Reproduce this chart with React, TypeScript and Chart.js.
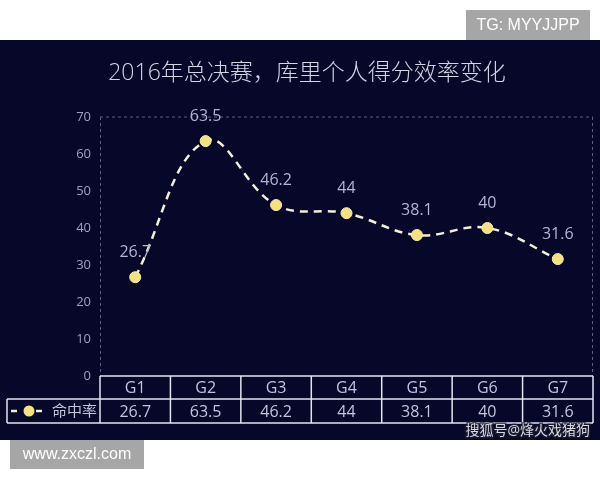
import { useEffect, useRef } from "react";
import { Chart, ChartConfiguration, Plugin, registerables } from "chart.js";

Chart.register(...registerables);

const title = "2016年总决赛，库里个人得分效率变化";
const seriesName = "命中率";
const games = ["G1", "G2", "G3", "G4", "G5", "G6", "G7"];
const fgPct = [26.7, 63.5, 46.2, 44, 38.1, 40, 31.6];

const BG = "#07072a";
const CJK = '"Open Sans", "Noto Sans CJK SC", sans-serif';

const decorPlugin: Plugin<"line"> = {
  id: "decor",
  beforeDraw(chart) {
    const { ctx, width, height, chartArea } = chart;
    ctx.save();
    ctx.fillStyle = "#ffffff";
    ctx.fillRect(0, 0, width, height);
    ctx.fillStyle = BG;
    ctx.fillRect(0, 40, width, 400);

    // title
    ctx.fillStyle = "#d4d4e4";
    ctx.font = `300 23px ${CJK}`;
    ctx.textAlign = "center";
    ctx.textBaseline = "middle";
    ctx.fillText(title, 307, 73);

    // dashed frame
    ctx.strokeStyle = "#5e5e82";
    ctx.lineWidth = 1;
    ctx.setLineDash([3, 3]);
    ctx.beginPath();
    ctx.moveTo(chartArea.left, chartArea.top);
    ctx.lineTo(chartArea.right, chartArea.top);
    ctx.moveTo(chartArea.left + 0.5, chartArea.top);
    ctx.lineTo(chartArea.left + 0.5, chartArea.bottom);
    ctx.moveTo(chartArea.right - 0.5, chartArea.top);
    ctx.lineTo(chartArea.right - 0.5, chartArea.bottom);
    ctx.stroke();
    ctx.restore();
  },
  afterDraw(chart) {
    const { ctx, chartArea } = chart;
    const meta = chart.getDatasetMeta(0);
    ctx.save();

    // value labels
    ctx.fillStyle = "#b4b4d4";
    ctx.font = `16px ${CJK}`;
    ctx.textAlign = "center";
    ctx.textBaseline = "middle";
    meta.data.forEach((pt, i) => {
      ctx.fillText(String(fgPct[i]), pt.x, pt.y - 25);
    });

    // data table
    const left = chartArea.left;
    const right = chartArea.right;
    const colW = (right - left) / games.length;
    const top = chartArea.bottom;
    const mid = top + 23;
    const bot = mid + 24;
    const legendLeft = 7;

    ctx.strokeStyle = "#e4e4f0";
    ctx.lineWidth = 1.5;
    ctx.beginPath();
    ctx.moveTo(left, top);
    ctx.lineTo(right, top);
    ctx.moveTo(legendLeft, mid);
    ctx.lineTo(right, mid);
    ctx.moveTo(legendLeft, bot);
    ctx.lineTo(right, bot);
    ctx.moveTo(legendLeft, mid);
    ctx.lineTo(legendLeft, bot);
    for (let i = 0; i <= games.length; i++) {
      const x = left + i * colW;
      ctx.moveTo(x, top);
      ctx.lineTo(x, bot);
    }
    ctx.stroke();

    ctx.fillStyle = "#c4c4dc";
    ctx.font = `16px ${CJK}`;
    games.forEach((g, i) => {
      const x = left + (i + 0.5) * colW;
      ctx.fillText(g, x, (top + mid) / 2 + 1);
      ctx.fillText(String(fgPct[i]), x, (mid + bot) / 2 + 1);
    });

    // legend cell
    const ly = (mid + bot) / 2;
    ctx.strokeStyle = "#f2eed8";
    ctx.lineWidth = 2.5;
    ctx.beginPath();
    ctx.moveTo(11, ly);
    ctx.lineTo(17, ly);
    ctx.moveTo(36, ly);
    ctx.lineTo(42, ly);
    ctx.stroke();
    ctx.fillStyle = "#f6e27c";
    ctx.beginPath();
    ctx.arc(29, ly, 5.5, 0, Math.PI * 2);
    ctx.fill();
    ctx.fillStyle = "#c4c4dc";
    ctx.font = `15px ${CJK}`;
    ctx.textAlign = "left";
    ctx.fillText(seriesName, 52, ly + 1);

    // watermarks
    ctx.font = "14px " + CJK;
    ctx.textAlign = "right";
    ctx.lineWidth = 3;
    ctx.strokeStyle = "rgba(30,30,50,0.7)";
    ctx.strokeText("搜狐号@烽火戏猪狗", 590, 431);
    ctx.fillStyle = "#d8d8e0";
    ctx.fillText("搜狐号@烽火戏猪狗", 590, 431);

    ctx.fillStyle = "#a6a6a6";
    ctx.fillRect(466, 10, 124, 30);
    ctx.fillRect(10, 440, 134, 29);
    ctx.fillStyle = "#ffffff";
    ctx.font = '16px "Liberation Sans", Arial, sans-serif';
    ctx.textAlign = "center";
    ctx.fillText("TG: MYYJJPP", 528, 26);
    ctx.fillText("www.zxczl.com", 77, 455);
    ctx.restore();
  },
};

export default function App() {
  const chartRef = useRef<HTMLCanvasElement>(null);
  const chartInstance = useRef<Chart | null>(null);

  useEffect(() => {
    if (!chartRef.current) return;
    if (chartInstance.current) chartInstance.current.destroy();
    const ctx = chartRef.current.getContext("2d");
    if (!ctx) return;

    const config: ChartConfiguration<"line"> = {
      type: "line",
      data: {
        labels: games,
        datasets: [
          {
            label: seriesName,
            data: fgPct,
            borderColor: "#f2eed8",
            borderWidth: 2.5,
            borderDash: [8, 6],
            tension: 0.4,
            pointRadius: 5.5,
            pointBackgroundColor: "#f6e27c",
            pointBorderColor: "#fbeea8",
            pointBorderWidth: 1,
          },
        ],
      },
      options: {
        responsive: false,
        animation: false,
        layout: { padding: { left: 0, top: 117, right: 7, bottom: 104 } },
        scales: {
          x: { display: false, offset: true },
          y: {
            min: 0,
            max: 70,
            afterFit: (scale) => {
              scale.width = 100;
            },
            grid: { display: false, drawTicks: false },
            border: { display: false },
            ticks: {
              stepSize: 10,
              padding: 9,
              color: "#a0a0c0",
              font: { size: 13, family: CJK },
            },
          },
        },
        plugins: {
          legend: { display: false },
          tooltip: { enabled: false },
        },
      },
      plugins: [decorPlugin],
    };

    chartInstance.current = new Chart(ctx, config);
    return () => {
      if (chartInstance.current) chartInstance.current.destroy();
    };
  }, []);

  return (
    <div style={{ position: "absolute", left: 0, top: 0, width: 600, height: 480 }}>
      <canvas ref={chartRef} width={600} height={480}></canvas>
    </div>
  );
}
